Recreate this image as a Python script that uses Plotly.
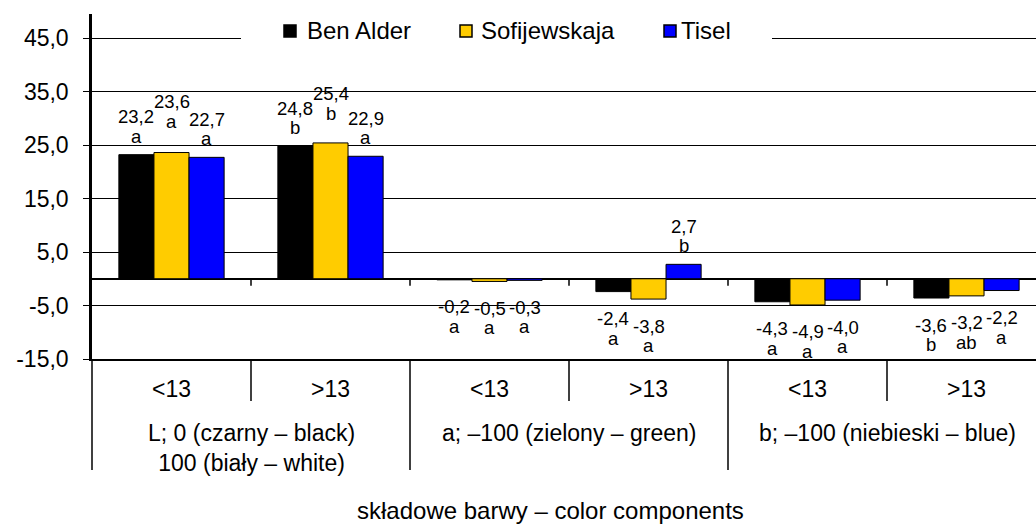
import plotly.graph_objects as go

# ---------------- data ----------------
SUBGROUPS = ["<13", ">13", "<13", ">13", "<13", ">13"]
COMPONENTS = [
    "L; 0 (czarny – black)<br>100 (biały – white)",
    "a; –100 (zielony – green)",
    "b; –100 (niebieski – blue)",
]
SERIES = ["Ben Alder", "Sofijewskaja", "Tisel"]
BEN_ALDER = [23.2, 24.8, -0.2, -2.4, -4.3, -3.6]
SOFIJEWSKAJA = [23.6, 25.4, -0.5, -3.8, -4.9, -3.2]
TISEL = [22.7, 22.9, -0.3, 2.7, -4.0, -2.2]
BEN_ALDER_LETTERS = ["a", "b", "a", "a", "a", "b"]
SOFIJEWSKAJA_LETTERS = ["a", "b", "a", "a", "a", "ab"]
TISEL_LETTERS = ["a", "a", "a", "b", "a", "a"]
Y_TICKS = [-15, -5, 5, 15, 25, 35, 45]
Y_TICK_LABELS = ["-15,0", "-5,0", "5,0", "15,0", "25,0", "35,0", "45,0"]
X_TITLE = "składowe barwy – color components"

# ---------------- style ----------------
COLORS = ["#000000", "#FFCC00", "#0000FF"]
FONT = "Liberation Sans, Arial, sans-serif"
W, H = 1036, 525
ML, MR, MT, MB = 92, 0, 14, 166
PLOT_W = W - ML - MR
PLOT_H = H - MT - MB
CAT_PX = 159.0
BARGAP = 0.338
Y_RANGE = [-15, 49.5]
# extra lift (px) for labels that were staggered to avoid overlap
LABEL_RAISE = [
    [0, 0, 0, 0, 0, 0],
    [13, 11, 0, 0, 0, 0],
    [0, 0, 0, 0, 0, 0],
]

values = [BEN_ALDER, SOFIJEWSKAJA, TISEL]
letters = [BEN_ALDER_LETTERS, SOFIJEWSKAJA_LETTERS, TISEL_LETTERS]
xs = list(range(len(SUBGROUPS)))


def py(p):  # pixel y -> paper y
    return (H - MB - p) / PLOT_H


def pxp(p):  # pixel x -> paper x
    return (p - ML) / PLOT_W


fig = go.Figure()
for name, vals, col in zip(SERIES, values, COLORS):
    fig.add_trace(go.Bar(
        x=xs, y=vals, name=name, showlegend=False,
        marker=dict(color=col, line=dict(color="#000000", width=1)),
    ))

annotations = []
shapes = []

# data labels
bw = (1 - BARGAP) / len(SERIES)
for s, (vals, lets) in enumerate(zip(values, letters)):
    off = (s - (len(SERIES) - 1) / 2) * bw
    for i, (v, l) in enumerate(zip(vals, lets)):
        txt = f"{v:.1f}".replace(".", ",")
        if v >= 0:
            vs = 38 + LABEL_RAISE[s][i]
        else:
            vs = -27
        for t, sh in ((txt, vs), (l, vs - 19.5)):
            annotations.append(dict(
                x=i + off, y=v, xref="x", yref="y", text=t, showarrow=False,
                yanchor="middle", xanchor="center", yshift=sh,
                font=dict(family=FONT, size=18.5, color="#000000"),
            ))

# ticks on zero line at category boundaries
for i in range(len(SUBGROUPS) - 1):
    shapes.append(dict(
        type="line", xref="x", yref="y", x0=i + 0.5, x1=i + 0.5,
        ysizemode="pixel", yanchor=0, y0=0, y1=-7,
        line=dict(color="#000000", width=1.5),
    ))

# category dividers below the axis
for i in range(len(SUBGROUPS) + 1):
    b = i - 0.5
    full = (i % 2 == 0)
    xpix = ML + (b + 0.5) * CAT_PX
    shapes.append(dict(
        type="line", xref="paper", yref="paper",
        x0=pxp(xpix), x1=pxp(xpix),
        y0=0, y1=py(470 if full else 401),
        line=dict(color="#000000", width=1.5),
    ))

# category labels
for i, lab in enumerate(SUBGROUPS):
    annotations.append(dict(
        x=i, y=py(389), xref="x", yref="paper", text=lab, showarrow=False,
        yanchor="middle", font=dict(family=FONT, size=23, color="#000000"),
    ))
for g, lab in enumerate(COMPONENTS):
    annotations.append(dict(
        x=2 * g + 0.5, y=py(418), xref="x", yref="paper", text=lab, showarrow=False,
        yanchor="top", font=dict(family=FONT, size=23, color="#000000"),
    ))

# axis title
annotations.append(dict(
    x=pxp(550), y=py(510), xref="paper", yref="paper", text=X_TITLE,
    showarrow=False, yanchor="middle",
    font=dict(family=FONT, size=24, color="#000000"),
))

# legend (white box hiding the top gridline, squares and names)
shapes.append(dict(
    type="rect", xref="paper", yref="paper", layer="above",
    x0=pxp(241), x1=pxp(772), y0=py(45), y1=py(18),
    fillcolor="#FFFFFF", line=dict(width=0),
))
LEG_SQ = [284, 460, 664]
LEG_TX = [305, 479, 679]
for name, col, sx, tx in zip(SERIES, COLORS, LEG_SQ, LEG_TX):
    shapes.append(dict(
        type="rect", xref="paper", yref="paper", layer="above",
        x0=pxp(sx), x1=pxp(sx + 12), y0=py(37), y1=py(25),
        fillcolor=col, line=dict(color="#000000", width=1.5),
    ))
    annotations.append(dict(
        x=pxp(tx), y=py(31), xref="paper", yref="paper", text=name,
        showarrow=False, xanchor="left", yanchor="middle",
        font=dict(family=FONT, size=24, color="#000000"),
    ))

fig.update_layout(
    width=W, height=H,
    margin=dict(l=ML, r=MR, t=MT, b=MB, pad=0),
    paper_bgcolor="#FFFFFF", plot_bgcolor="#FFFFFF",
    barmode="group", bargap=BARGAP, bargroupgap=0,
    showlegend=False,
    annotations=annotations, shapes=shapes,
    xaxis=dict(
        range=[-0.5, -0.5 + PLOT_W / CAT_PX], showticklabels=False,
        showgrid=False, zeroline=False, ticks="",
        showline=True, linecolor="#000000", linewidth=1.5,
    ),
    yaxis=dict(
        range=Y_RANGE, tickvals=Y_TICKS, ticktext=Y_TICK_LABELS,
        showgrid=True, gridcolor="#000000", gridwidth=1,
        zeroline=True, zerolinecolor="#000000", zerolinewidth=2,
        showline=True, linecolor="#000000", linewidth=2.5,
        ticks="outside", ticklen=6, tickcolor="#000000", tickwidth=1,
        ticklabelstandoff=10,
        tickfont=dict(family=FONT, size=23, color="#000000"),
    ),
)

fig.write_html("out.html")
